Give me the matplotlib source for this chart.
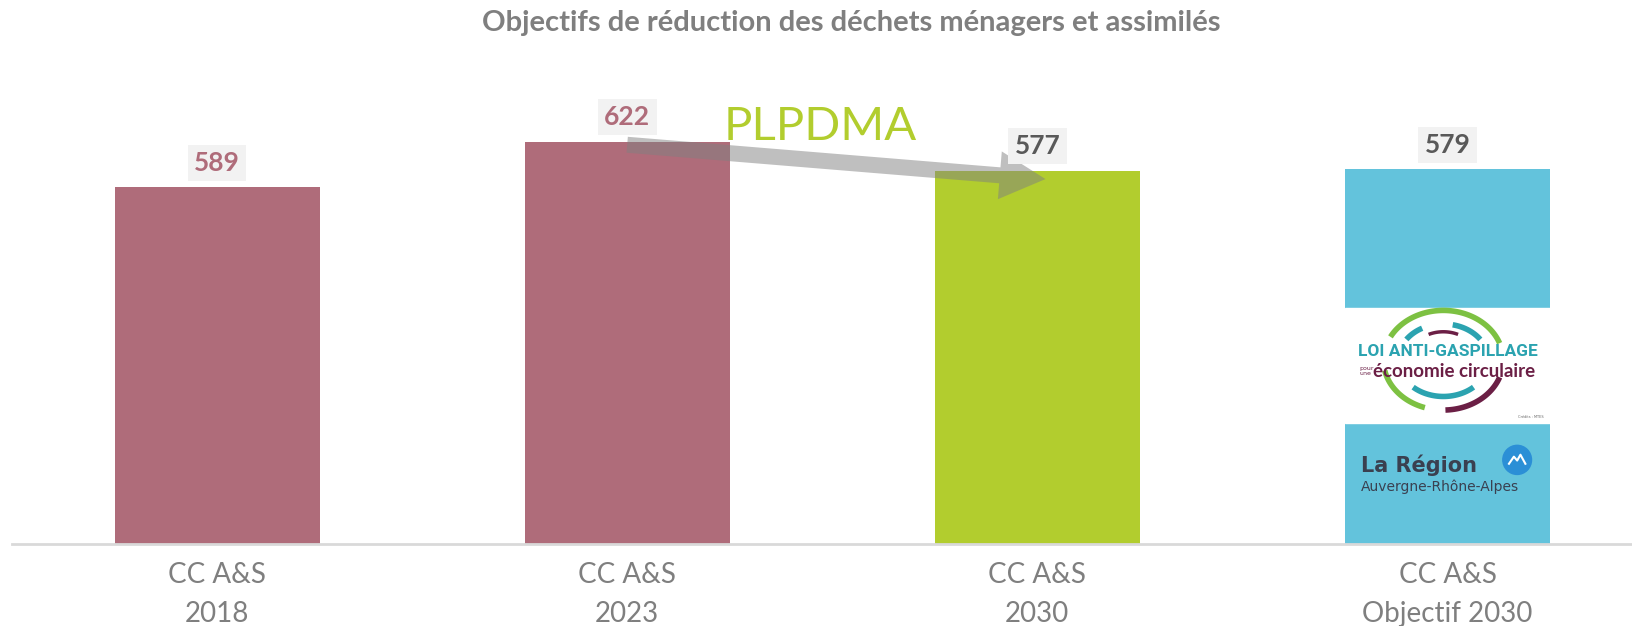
import matplotlib
matplotlib.use("Agg")
import matplotlib.pyplot as plt
from matplotlib.patches import Rectangle, Ellipse
import numpy as np

# Donnees du graphique
categories = ["CC A&S\n2018", "CC A&S\n2023", "CC A&S\n2030", "CC A&S\nObjectif 2030"]
hauteurs = [551, 622, 577, 579]          # hauteur des barres
etiquettes = ["589", "622", "577", "579"]  # valeurs affichees au-dessus
couleurs = ["#AF6C7A", "#AF6C7A", "#B2CD2E", "#63C3DC"]
couleurs_txt = ["#AF6C7A", "#AF6C7A", "#595959", "#595959"]

gris = "#7F7F7F"

fig = plt.figure(figsize=(16.32, 6.26), dpi=100)
ax = fig.add_axes([12 / 1632, 82 / 626, 1620 / 1632, 484 / 626])

x = list(range(len(categories)))
ax.bar(x, hauteurs, width=0.5, color=couleurs, zorder=2)

# etiquettes de valeur dans une boite grise
for i in range(len(x)):
    ax.annotate(etiquettes[i], xy=(x[i], hauteurs[i]), xytext=(0, 9),
                textcoords="offset points", ha="center", va="bottom",
                fontsize=19, fontweight="bold", family="Lato",
                color=couleurs_txt[i], zorder=4,
                bbox=dict(boxstyle="square,pad=0.24", fc="#F2F2F2", ec="none"))

# fleche PLPDMA entre 2023 et 2030
ax.annotate("", xy=(2.02, 564), xytext=(1.0, 617),
            arrowprops=dict(arrowstyle="simple,head_length=33,head_width=34.5,tail_width=11.5",
                            mutation_scale=1, color="#808080", alpha=0.5,
                            shrinkA=0, shrinkB=0, lw=0), zorder=3)
ax.text(1.47, 645, "PLPDMA", ha="center", va="center", fontsize=34,
        family="Lato", color="#B2CD2E")

# logos dans la derniere barre (approximation)
ax.add_patch(Rectangle((2.75, 187), 0.5, 178, color="white", zorder=3))
cx, cy = 2.99, 284
# arcs (a, b, angle debut, angle fin, couleur, epaisseur)
arcs = [(0.146, 77, 20, 152, "#7DC142", 4),
        (0.146, 77, 192, 252, "#7DC142", 4),
        (0.146, 77, 272, 340, "#6B1F45", 4),
        (0.110, 56, 118, 145, "#2BA3B0", 4),
        (0.110, 56, 35, 78, "#2BA3B0", 4),
        (0.110, 56, 228, 312, "#2BA3B0", 4),
        (0.085, 44, 65, 115, "#6B1F45", 2.5)]
for (a, b, t1, t2, c, lw) in arcs:
    t = np.radians(np.linspace(t1, t2, 60))
    ax.plot(cx + a * np.cos(t), cy + b * np.sin(t), color=c, lw=lw,
            solid_capstyle="butt", zorder=4)
ax.text(3.0, 297, "LOI ANTI-GASPILLAGE", ha="center", va="center", fontsize=12.5,
        fontweight="bold", family="Roboto", color="#2BA3B0", zorder=5)
ax.text(2.786, 267, "pour\nune", ha="left", va="center", fontsize=4.5,
        color="#6B1F45", zorder=5, linespacing=0.9)
ax.text(3.017, 267, "économie circulaire", ha="center", va="center", fontsize=13.5,
        fontweight="bold", family="Lato", color="#6B1F45", zorder=5)
ax.text(3.235, 196, "Crédits : MTES", ha="right", va="center", fontsize=2.5,
        color="#666666", zorder=5)
ax.text(2.79, 121, "La Région", ha="left", va="center", fontsize=15,
        fontweight="bold", family="DejaVu Sans", color="#3A4050", zorder=5)
ax.text(2.79, 89, "Auvergne-Rhône-Alpes", ha="left", va="center", fontsize=10,
        family="DejaVu Sans", color="#3A4050", zorder=5)
ax.add_patch(Ellipse((3.17, 130), 0.07, 45, color="#2B8FD6", zorder=5))
ax.plot([3.150, 3.162, 3.170, 3.178, 3.190], [124, 135, 129, 138, 124],
        color="white", lw=1.5, zorder=6)

ax.set_xlim(-0.5, 3.45)
ax.set_ylim(0, 748)
ax.set_xticks(x)
ax.set_xticklabels(categories, fontsize=20, family="Lato",
                   color=gris, linespacing=1.6)
ax.tick_params(axis="x", length=0, pad=13)
ax.set_yticks([])
for s in ["top", "right", "left"]:
    ax.spines[s].set_visible(False)
ax.spines["bottom"].set_color("#D9D9D9")
ax.spines["bottom"].set_linewidth(2)

fig.text(0.5215, 0.963, "Objectifs de réduction des déchets ménagers et assimilés",
         ha="center", va="center", fontsize=21, fontweight="bold", family="Lato",
         color=gris)

fig.savefig("out.png", dpi=100)
